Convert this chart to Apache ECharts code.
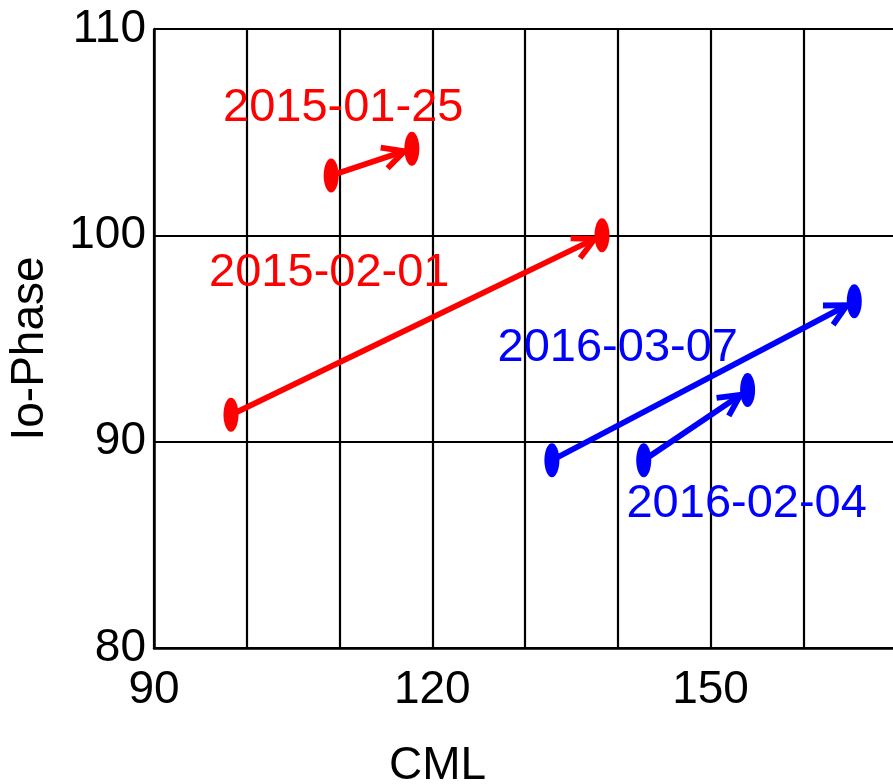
<!DOCTYPE html>
<html>
<head>
<meta charset="utf-8">
<script src="https://cdn.jsdelivr.net/npm/echarts@6/dist/echarts.min.js"></script>
<style>
  html, body { margin: 0; padding: 0; background: #fff; }
  #chart { width: 893px; height: 784px; }
</style>
</head>
<body>
<div id="chart"></div>
<script>
// Observing sessions: each arrow runs from the start (CML, Io-Phase) to the end.
const sessions   = ['2015-01-25', '2015-02-01', '2016-03-07', '2016-02-04'];
const cmlStart   = [109.1, 98.3, 132.9, 142.8];
const phaseStart = [102.9, 91.3, 89.1, 89.1];
const cmlEnd     = [117.8, 138.3, 165.5, 154.0];
const phaseEnd   = [104.2, 100.0, 96.8, 92.5];
const sessionColor = ['#ff0000', '#ff0000', '#0000ff', '#0000ff'];

// Where each session's date label sits, in axis units.
const labelCml   = [110.4, 108.9, 140.0, 153.9];
const labelPhase = [106.3, 98.3, 94.7, 87.1];

// Axis ranges and ticks.
const cmlMin = 90, cmlMax = 170, cmlStep = 10, cmlLabelStep = 30;
const phaseMin = 80, phaseMax = 110, phaseStep = 10;

const FONT = '"Liberation Sans", Arial, Helvetica, sans-serif';

const chart = echarts.init(document.getElementById('chart'), null, { renderer: 'canvas' });

const arrowData = sessions.map((s, i) => [cmlStart[i], phaseStart[i], cmlEnd[i], phaseEnd[i], labelCml[i], labelPhase[i]]);

function renderArrow(params, api) {
  const i = params.dataIndex;
  const color = sessionColor[i];
  const p0 = api.coord([api.value(0), api.value(1)]);
  const p1 = api.coord([api.value(2), api.value(3)]);
  const lp = api.coord([api.value(4), api.value(5)]);
  const rx = 7.5, ry = 17;
  const dx = p1[0] - p0[0], dy = p1[1] - p0[1];
  const len = Math.hypot(dx, dy);
  const ux = dx / len, uy = dy / len;
  // stop the arrow on the rim of the end marker
  const rim = 1 / Math.sqrt((ux / rx) * (ux / rx) + (uy / ry) * (uy / ry));
  const tip = [p1[0] - ux * rim, p1[1] - uy * rim];
  const head = 24, spread = 27 * Math.PI / 180;
  const back = Math.atan2(-uy, -ux);
  const armA = [tip[0] + head * Math.cos(back + spread), tip[1] + head * Math.sin(back + spread)];
  const armB = [tip[0] + head * Math.cos(back - spread), tip[1] + head * Math.sin(back - spread)];
  const stroke = { stroke: color, lineWidth: 5.8, fill: null, lineCap: 'butt', lineJoin: 'miter' };
  return {
    type: 'group',
    children: [
      { type: 'line', shape: { x1: p0[0], y1: p0[1], x2: tip[0] - ux * 2, y2: tip[1] - uy * 2 }, style: stroke },
      { type: 'polyline', shape: { points: [armA, tip, armB] }, style: stroke },
      { type: 'ellipse', shape: { cx: p0[0], cy: p0[1], rx: rx, ry: ry }, style: { fill: color } },
      { type: 'ellipse', shape: { cx: p1[0], cy: p1[1], rx: rx, ry: ry }, style: { fill: color } },
      // +3px: centre the digits (not the em box) on the anchor
      { type: 'text', x: lp[0], y: lp[1] + 3, style: {
          text: sessions[i], fill: color, font: '47px ' + FONT, align: 'center', verticalAlign: 'middle' } }
    ]
  };
}

chart.setOption({
  animation: false,
  backgroundColor: '#ffffff',
  textStyle: { fontFamily: FONT },
  grid: { left: 154, top: 29, bottom: 136, right: -3, containLabel: false, outerBoundsMode: 'none' },
  xAxis: {
    type: 'value', min: cmlMin, max: cmlMax, interval: cmlStep,
    name: 'CML', nameLocation: 'middle', nameGap: 95,
    nameTextStyle: { fontSize: 46, color: '#000', fontFamily: FONT, padding: [0, 175, 0, 0] },
    axisLine: { show: true, onZero: false, lineStyle: { color: '#000', width: 2.5 } },
    axisTick: { show: false },
    splitLine: { show: true, lineStyle: { color: '#000', width: 2.2 } },
    axisLabel: {
      fontSize: 46, color: '#000', fontFamily: FONT, margin: 19,
      showMinLabel: true, showMaxLabel: true,
      formatter: v => ((v - cmlMin) % cmlLabelStep === 0 ? String(v) : '')
    }
  },
  yAxis: {
    type: 'value', min: phaseMin, max: phaseMax, interval: phaseStep,
    name: 'Io-Phase', nameLocation: 'middle', nameGap: 101,
    nameTextStyle: { fontSize: 46, color: '#000', fontFamily: FONT, padding: [0, 20, 0, 0] },
    axisLine: { show: true, onZero: false, lineStyle: { color: '#000', width: 2.5 } },
    axisTick: { show: false },
    splitLine: { show: true, lineStyle: { color: '#000', width: 2.2 } },
    axisLabel: { fontSize: 46, color: '#000', fontFamily: FONT, margin: 8 }
  },
  series: [{
    type: 'custom',
    coordinateSystem: 'cartesian2d',
    clip: false,
    encode: { x: [0, 2], y: [1, 3] },
    renderItem: renderArrow,
    data: arrowData
  }]
});
</script>
</body>
</html>
